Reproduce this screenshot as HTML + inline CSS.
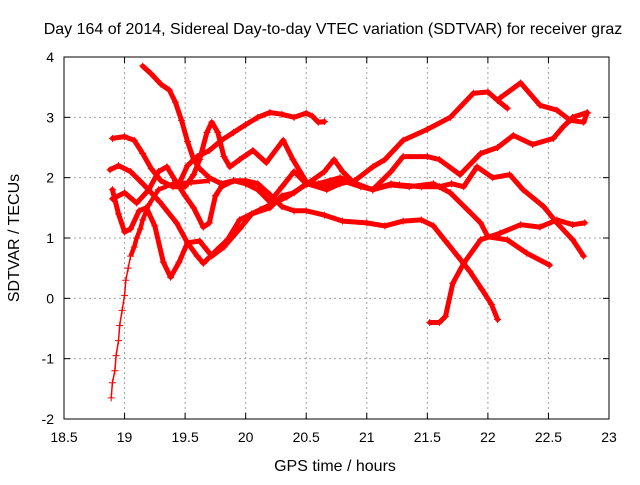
<!DOCTYPE html>
<html><head><meta charset="utf-8"><style>
body{margin:0;background:#fff}
svg text{font-family:"Liberation Sans",sans-serif;fill:#000}
</style></head><body>
<svg id="c" width="640" height="480" xmlns="http://www.w3.org/2000/svg">
<rect width="640" height="480" fill="#fff"/>
<text x="333" y="34" font-size="16" text-anchor="middle">Day 164 of 2014, Sidereal Day-to-day VTEC variation (SDTVAR) for receiver graz</text>
<text x="335" y="471" font-size="16" text-anchor="middle">GPS time / hours</text>
<text transform="translate(19,238) rotate(-90)" font-size="16" text-anchor="middle">SDTVAR / TECUs</text>
<g id="grid"></g><g id="series"></g><g id="axes"></g>
</svg>
<script>
const xTicks=[18.5,19,19.5,20,20.5,21,21.5,22,22.5,23];
const xTickLabels=["18.5","19","19.5","20","20.5","21","21.5","22","22.5","23"];
const yTicks=[-2,-1,0,1,2,3,4];
const yTickLabels=["-2","-1","0","1","2","3","4"];
const s1=[[19.15,3.85],[19.22,3.72],[19.3,3.55],[19.37,3.45],[19.42,3.25],[19.47,2.95],[19.52,2.6],[19.57,2.3],[19.62,2.15],[19.7,2.0],[19.8,1.9],[19.9,1.95],[20.0,1.95],[20.1,1.9],[20.2,1.72],[20.3,1.52],[20.4,1.45],[20.5,1.45],[20.65,1.38],[20.8,1.28],[21.0,1.25],[21.15,1.2],[21.3,1.28],[21.45,1.3],[21.55,1.2],[21.65,0.95],[21.75,0.7],[21.85,0.45],[21.95,0.15],[22.03,-0.1],[22.08,-0.35]];
const s2=[[19.45,1.9],[19.52,2.2],[19.6,2.35],[19.7,2.45],[19.8,2.62],[19.9,2.75],[20.0,2.88],[20.1,3.0],[20.2,3.08],[20.3,3.05],[20.4,3.0],[20.5,3.07],[20.55,3.02],[20.6,2.92],[20.65,2.93]];
const s3=[[18.9,2.65],[19.0,2.68],[19.08,2.62],[19.15,2.4],[19.22,2.15],[19.3,1.95],[19.4,1.85],[19.5,1.85],[19.57,2.05],[19.62,2.3],[19.68,2.75],[19.72,2.92],[19.77,2.75],[19.82,2.35],[19.87,2.18],[19.95,2.3],[20.06,2.45],[20.17,2.25],[20.31,2.62],[20.39,2.3],[20.51,1.9],[20.67,1.8],[20.78,1.9],[20.9,1.95],[21.05,2.18],[21.15,2.3],[21.3,2.62],[21.5,2.8],[21.69,3.0],[21.88,3.4],[22.0,3.42],[22.08,3.28],[22.16,3.15]];
const s4=[[18.88,2.13],[18.95,2.2],[19.05,2.1],[19.15,1.9],[19.29,1.6],[19.43,1.25],[19.52,0.92],[19.6,0.7],[19.65,0.58],[19.76,0.8],[19.85,0.97],[19.95,1.3],[20.12,1.47],[20.34,1.68],[20.51,1.9],[20.65,2.1],[20.73,2.3],[20.8,2.1],[20.9,1.9],[21.05,1.8],[21.2,2.1],[21.3,2.35],[21.5,2.35],[21.6,2.3],[21.77,2.05],[21.94,2.4],[22.08,2.5],[22.21,2.7],[22.37,2.55],[22.54,2.65],[22.62,2.84],[22.7,3.0],[22.82,3.08]];
const s5=[[18.9,1.65],[19.0,1.75],[19.1,1.58],[19.2,1.8],[19.28,2.1],[19.35,2.18],[19.42,1.95],[19.5,1.7],[19.57,1.5],[19.65,1.18],[19.7,1.25],[19.75,1.7],[19.8,1.85],[19.9,1.95],[20.0,1.9],[20.1,1.8],[20.2,1.6],[20.3,1.85],[20.4,2.1],[20.5,1.9],[20.65,1.85],[20.8,1.95],[20.95,1.85],[21.05,1.8],[21.2,1.88],[21.35,1.85],[21.55,1.9],[21.69,1.75],[21.83,1.47],[21.94,1.25],[22.0,1.02],[22.16,0.97],[22.32,0.75],[22.51,0.55]];
const s6=[[18.9,1.8],[18.95,1.4],[19.0,1.1],[19.05,1.15],[19.12,1.45],[19.18,1.5],[19.25,1.2],[19.32,0.6],[19.38,0.35],[19.45,0.6],[19.52,0.92],[19.62,0.95],[19.72,0.7],[19.82,0.85],[19.95,1.15],[20.05,1.4],[20.2,1.5],[20.3,1.7],[20.4,1.75],[20.5,1.9],[20.6,1.9],[20.78,2.0],[21.05,1.8],[21.2,1.9],[21.27,1.88],[21.45,1.85],[21.6,1.85],[21.7,1.9],[21.8,1.85],[21.91,2.18],[22.04,2.0],[22.18,2.05],[22.29,1.8],[22.46,1.52],[22.57,1.25],[22.7,0.97],[22.79,0.7]];
const s7=[[18.89,-1.65],[18.9,-1.4],[18.92,-1.2],[18.93,-0.95],[18.95,-0.7],[18.96,-0.45],[18.98,-0.2],[19.0,0.05],[19.01,0.3],[19.03,0.5],[19.05,0.7],[19.08,0.85],[19.1,1.0],[19.13,1.15],[19.15,1.3],[19.2,1.55],[19.28,1.8],[19.4,1.9],[19.55,1.92],[19.7,1.95]];
const s8=[[21.52,-0.4],[21.6,-0.4],[21.65,-0.3],[21.71,0.25],[21.8,0.58],[21.94,0.97],[22.1,1.08],[22.27,1.22],[22.43,1.18],[22.57,1.3],[22.7,1.22],[22.8,1.25]];
const s9=[[22.1,3.32],[22.27,3.57],[22.43,3.2],[22.57,3.12],[22.68,2.95],[22.79,2.92],[22.82,3.07]];
const allSeries=[s1,s2,s3,s4,s5,s6,s7,s8,s9];

const L=64,R=609,T=57,B=419;
const xs=h=>L+(h-18.5)/(23-18.5)*(R-L);
const ys=v=>B-(v+2)/6*(B-T);
const NS="http://www.w3.org/2000/svg";
function mk(tag,attrs,parent){const e=document.createElementNS(NS,tag);for(const k in attrs)e.setAttribute(k,attrs[k]);parent.appendChild(e);return e;}
const grid=document.getElementById('grid'),axes=document.getElementById('axes'),ser=document.getElementById('series');
xTicks.forEach((t,i)=>{const x=xs(t);
 if(i>0&&i<xTicks.length-1){const g=mk('line',{x1:x,x2:x,y1:T,y2:B,stroke:'#a0a0a0','stroke-dasharray':'2,3'},grid);
 
 }
 mk('line',{x1:x,x2:x,y1:B,y2:B-6,stroke:'#000'},axes);mk('line',{x1:x,x2:x,y1:T,y2:T+6,stroke:'#000'},axes);
 const tx=mk('text',{x:x,y:442,'font-size':14,'text-anchor':'middle'},axes);tx.textContent=xTickLabels[i];
 
 });
yTicks.forEach((t,i)=>{const y=ys(t);
 if(i>0&&i<yTicks.length-1){const g=mk('line',{x1:L,x2:R,y1:y,y2:y,stroke:'#a0a0a0','stroke-dasharray':'2,3'},grid);
 
 }
 mk('line',{x1:L,x2:L+6,y1:y,y2:y,stroke:'#000'},axes);mk('line',{x1:R,x2:R-6,y1:y,y2:y,stroke:'#000'},axes);
 const tx=mk('text',{x:54,y:y+5,'font-size':14,'text-anchor':'end'},axes);tx.textContent=yTickLabels[i];
 
 });
const frame=mk('rect',{x:L,y:T,width:R-L,height:B-T,fill:'none',stroke:'#000','stroke-width':1},axes);


function pathOf(pts){return pts.map((p,i)=>(i?'L':'M')+xs(p[0]).toFixed(1)+','+ys(p[1]).toFixed(1)).join('');}
allSeries.forEach((s,k)=>{
 const g=mk('g',{},ser);
 
 
 if(k===6){
  mk('path',{d:pathOf(s),fill:'none',stroke:'#f00','stroke-width':1.5},g);
  mk('path',{d:pathOf(s.filter(p=>p[1]>=0.6)),fill:'none',stroke:'#f00','stroke-width':4.5,'stroke-linejoin':'round'},g);
 } else {
  mk('path',{d:pathOf(s),fill:'none',stroke:'#f00','stroke-width':5,'stroke-linejoin':'round','stroke-linecap':'round'},g);
 }
 s.forEach(p=>{const x=xs(p[0]),y=ys(p[1]);
  const m=mk('path',{d:`M${x-3.5},${y}h7M${x},${y-3.5}v7`,stroke:'#f00','stroke-width':1},g);
  
  });
});
</script>
</body></html>
